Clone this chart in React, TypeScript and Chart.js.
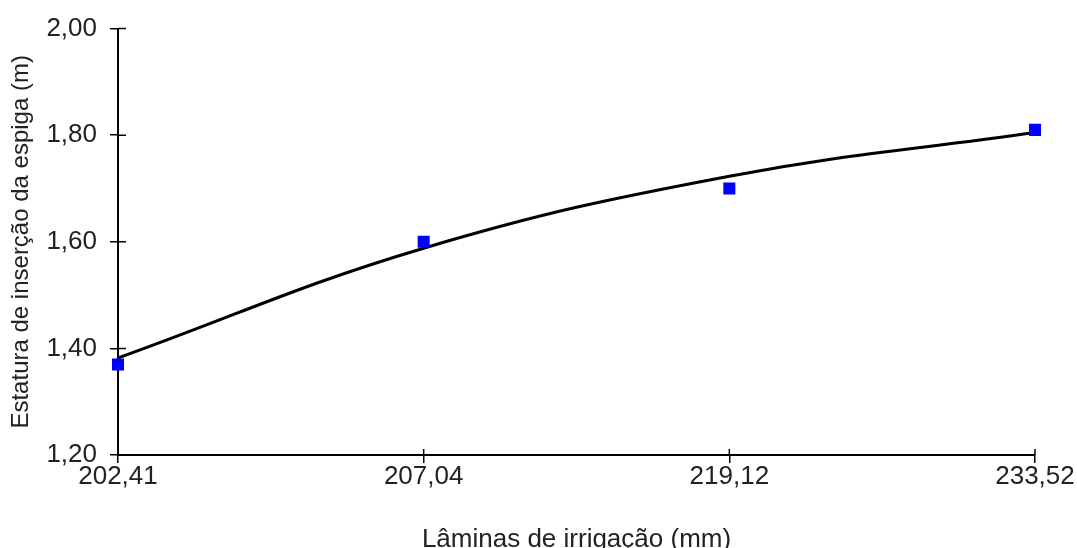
import React, { useEffect, useRef } from "react";
import { Chart, registerables } from "chart.js";

Chart.register(...registerables);

const categories = ["202,41", "207,04", "219,12", "233,52"];
const observed = [1.37, 1.6, 1.7, 1.81];
const trend = [1.382, 1.588, 1.723, 1.805];
const yMin = 1.2;
const yMax = 2.0;
const yStep = 0.2;
const xTitle = "Lâminas de irrigação (mm)";
const yTitle = "Estatura de inserção da espiga (m)";

const FONT = "'Liberation Sans', Arial, sans-serif";

const innerTicks = {
  id: "innerTicks",
  afterDraw(chart: any) {
    const ctx = chart.ctx;
    const x = chart.scales.x;
    const y = chart.scales.y;
    ctx.save();
    ctx.strokeStyle = "#000";
    ctx.lineWidth = 1.5;
    ctx.beginPath();
    y.ticks.forEach((_t: any, i: number) => {
      const py = y.getPixelForTick(i);
      ctx.moveTo(x.left, py);
      ctx.lineTo(x.left + 8, py);
    });
    x.ticks.forEach((_t: any, i: number) => {
      const px = x.getPixelForTick(i);
      ctx.moveTo(px, y.bottom);
      ctx.lineTo(px, y.bottom - 6);
    });
    ctx.stroke();
    ctx.restore();
  },
};

export default function App() {
  const ref = useRef<HTMLCanvasElement | null>(null);
  useEffect(() => {
    document.body.style.margin = "0";
    const c = new Chart(ref.current as HTMLCanvasElement, {
      type: "line",
      data: {
        labels: categories,
        datasets: [
          {
            label: "Observado",
            data: observed,
            showLine: false,
            pointStyle: "rect",
            pointRadius: 8.5,
            pointBorderWidth: 0,
            pointBackgroundColor: "#0000ff",
            borderColor: "#0000ff",
            order: 0,
          },
          {
            label: "Tendência",
            data: trend,
            borderColor: "#000",
            borderWidth: 3,
            pointRadius: 0,
            tension: 0.4,
            fill: false,
            order: 1,
          },
        ],
      },
      plugins: [innerTicks],
      options: {
        animation: false,
        responsive: false,
        maintainAspectRatio: false,
        layout: { padding: { left: 0, right: 42, top: 28, bottom: 0 } },
        plugins: {
          legend: { display: false },
          tooltip: { enabled: false },
        },
        scales: {
          x: {
            type: "category",
            offset: false,
            grid: {
              drawOnChartArea: false,
              drawTicks: true,
              tickLength: 8,
              color: "#000",
              lineWidth: 1.5,
            },
            border: { color: "#000", width: 2 },
            ticks: {
              color: "#222",
              font: { family: FONT, size: 26 },
              padding: -2,
              maxRotation: 0,
              autoSkip: false,
            },
            title: {
              display: true,
              text: xTitle,
              color: "#222",
              font: { family: FONT, size: 26, lineHeight: 0.6 },
              padding: { top: 0, bottom: 0 },
            },
            afterFit: (s: any) => {
              s.height = 93;
            },
          },
          y: {
            min: yMin,
            max: yMax,
            grid: {
              drawOnChartArea: false,
              drawTicks: true,
              tickLength: 8,
              color: "#000",
              lineWidth: 1.5,
            },
            border: { color: "#000", width: 2 },
            ticks: {
              stepSize: yStep,
              color: "#222",
              font: { family: FONT, size: 26 },
              padding: 13,
              callback: (v: any) => Number(v).toFixed(2).replace(".", ","),
            },
            title: {
              display: true,
              text: yTitle,
              color: "#222",
              font: { family: FONT, size: 24 },
              padding: { top: 7, bottom: 0 },
            },
            afterFit: (s: any) => {
              s.width = 118;
            },
          },
        },
      },
    });
    return () => c.destroy();
  }, []);
  return (
    <div style={{ width: 1077, height: 548, position: "relative" }}>
      <canvas ref={ref} width={1077} height={548} style={{ display: "block" }} />
    </div>
  );
}
